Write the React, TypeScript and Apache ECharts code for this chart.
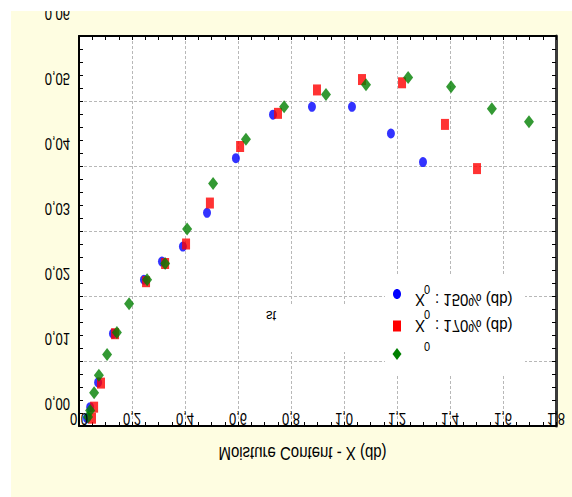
import React, { useEffect, useRef } from "react";
import * as echarts from "echarts";

// Tick values and labels
const xTickValues = [0, 0.2, 0.4, 0.6, 0.8, 1.0, 1.2, 1.4, 1.6, 1.8];
const xTickLabels = ["0,0", "0,2", "0,4", "0,6", "0,8", "1,0", "1,2", "1,4", "1,6", "1,8"];
const yTickValues = [0, 0.01, 0.02, 0.03, 0.04, 0.05, 0.06];
const yTickLabels = ["0,00", "0,01", "0,02", "0,03", "0,04", "0,05", "0,06"];

// Series: X0 = 150 % (db)
const x150 = [0.030, 0.042, 0.072, 0.128, 0.245, 0.313, 0.392, 0.483, 0.592, 0.732, 0.879, 1.030, 1.177, 1.298];
const y150 = [0.0012, 0.0029, 0.0067, 0.0142, 0.0225, 0.0253, 0.0276, 0.0328, 0.0412, 0.0479, 0.0491, 0.0491, 0.0450, 0.0406];

// Series: X0 = 170 % (db)
const x170 = [0.049, 0.057, 0.083, 0.136, 0.253, 0.325, 0.404, 0.494, 0.608, 0.751, 0.898, 1.068, 1.219, 1.381, 1.502];
const y170 = [0.0012, 0.0029, 0.0066, 0.0142, 0.0222, 0.0250, 0.0280, 0.0343, 0.0430, 0.0481, 0.0517, 0.0533, 0.0528, 0.0464, 0.0396];

// Series: third run (green diamonds)
const x190 = [0.034, 0.042, 0.057, 0.075, 0.106, 0.143, 0.189, 0.257, 0.325, 0.408, 0.506, 0.630, 0.774, 0.932, 1.083, 1.242, 1.404, 1.558, 1.698];
const y190 = [0.0014, 0.0024, 0.0051, 0.0078, 0.0110, 0.0144, 0.0188, 0.0225, 0.0250, 0.0303, 0.0373, 0.0441, 0.0491, 0.0510, 0.0525, 0.0536, 0.0522, 0.0488, 0.0468];

const legendLabels = [": 150% (db)", ": 170% (db)"];
const xAxisTitle = "Moisture Content - X (db)";

const FONT = "'Liberation Sans', Arial, sans-serif";

const zip = (xs: number[], ys: number[]) => xs.map((x, i) => [x, ys[i]]);

export default function App() {
  const ref = useRef<HTMLDivElement>(null);

  useEffect(() => {
    const chart = echarts.init(ref.current!, null, { renderer: "svg" });

    const tick = { show: true, inside: true, length: 4, lineStyle: { color: "#000", width: 1 } };
    const minorX = { show: true, splitNumber: 4, length: 4, lineStyle: { color: "#000", width: 1 } };
    const minorY = { show: true, splitNumber: 5, length: 4, lineStyle: { color: "#000", width: 1 } };
    const split = { show: true, lineStyle: { color: "#b8b8b8", width: 1, type: [3, 2] } };

    chart.setOption({
      animation: false,
      backgroundColor: "#FEFDE1",
      grid: { left: 79, top: 36, right: 16, bottom: 71, show: true, backgroundColor: "#ffffff", borderWidth: 0 },
      xAxis: [
        {
          type: "value", min: 0, max: 1.8, interval: 0.2, position: "bottom",
          axisLine: { show: true, onZero: false, lineStyle: { color: "#000", width: 2 } },
          axisTick: tick, minorTick: minorX, axisLabel: { show: false }, splitLine: split,
        },
        {
          type: "value", min: 0, max: 1.8, interval: 0.2, position: "top",
          axisLine: { show: true, onZero: false, lineStyle: { color: "#000", width: 2 } },
          axisTick: tick, minorTick: minorX, axisLabel: { show: false }, splitLine: { show: false },
        },
      ],
      yAxis: [
        {
          type: "value", min: 0, max: 0.06, interval: 0.01, position: "left",
          axisLine: { show: true, onZero: false, lineStyle: { color: "#000", width: 2 } },
          axisTick: tick, minorTick: minorY, axisLabel: { show: false }, splitLine: split,
        },
        {
          type: "value", min: 0, max: 0.06, interval: 0.01, position: "right",
          axisLine: { show: true, onZero: false, lineStyle: { color: "#3a3a3a", width: 3 } },
          axisTick: tick, minorTick: minorY, axisLabel: { show: false }, splitLine: { show: false },
        },
      ],
      series: [
        {
          type: "scatter", name: "150", xAxisIndex: 0, yAxisIndex: 0, data: zip(x150, y150),
          symbol: "circle", symbolSize: [8, 10], itemStyle: { color: "#0000ff" },
        },
        {
          type: "scatter", name: "170", xAxisIndex: 0, yAxisIndex: 0, data: zip(x170, y170),
          symbol: "rect", symbolSize: [8, 11], itemStyle: { color: "#ff0000" },
        },
        {
          type: "scatter", name: "190", xAxisIndex: 0, yAxisIndex: 0, data: zip(x190, y190),
          symbol: "diamond", symbolSize: [10, 13], itemStyle: { color: "#008000" },
        },
      ],
    });

    const toPx = (x: number, y: number) =>
      chart.convertToPixel({ xAxisIndex: 0, yAxisIndex: 0 }, [x, y]) as number[];

    const flipped = (text: string, x: number, y: number, size: number, align: string, sy = -1.25, z = 20) => ({
      type: "text",
      x,
      y,
      scaleY: sy,
      z,
      style: { text, fill: "#000", font: `${size}px ${FONT}`, align, verticalAlign: "middle" },
    });

    const g: any[] = [];

    // white boxes behind legend and small label
    g.push({ type: "rect", z: 10, shape: { x: 385, y: 275, width: 140, height: 100 }, style: { fill: "#fff" } });
    g.push({ type: "rect", z: 10, shape: { x: 246, y: 306, width: 132, height: 46 }, style: { fill: "#fff" } });

    // x tick labels
    xTickValues.forEach((v, i) => {
      const p = toPx(v, 0);
      g.push(flipped(xTickLabels[i], p[0], p[1] - 7, 13, "center", -1.3));
    });
    // y tick labels
    yTickValues.forEach((v, i) => {
      const p = toPx(0, v);
      g.push(flipped(yTickLabels[i], p[0] - 9, p[1] - 22, 13, "right", -1.3));
    });

    // axis title
    const mid = toPx(0.9, 0);
    g.push(flipped(xAxisTitle, mid[0] - 15, 453, 15, "center", -1.2));

    // legend markers
    g.push({ type: "ellipse", z: 20, shape: { cx: 397, cy: 294, rx: 4, ry: 5 }, style: { fill: "#0000ff" } });
    g.push({ type: "rect", z: 20, shape: { x: 393, y: 320.5, width: 8, height: 11 }, style: { fill: "#ff0000" } });
    g.push({
      type: "polygon", z: 20,
      shape: { points: [[397, 348], [401.5, 354], [397, 360], [392.5, 354]] },
      style: { fill: "#008000" },
    });

    // legend texts
    g.push(flipped("X", 420, 300, 15, "center", -1.15));
    g.push(flipped("0", 427, 289, 11, "center", -1.15));
    g.push(flipped(legendLabels[0], 435, 300, 15, "left", -1.15));
    g.push(flipped("X", 420, 326, 15, "center", -1.15));
    g.push(flipped("0", 427, 314, 11, "center", -1.15));
    g.push(flipped(legendLabels[1], 435, 326, 15, "left", -1.15));
    g.push(flipped("0", 427, 346, 11, "center", -1.15));

    // small label
    g.push(flipped("st", 271, 316, 13, "center", -1.15));

    // white page margins (top and left)
    g.push({ type: "rect", z: 100, shape: { x: 0, y: 0, width: 11, height: 497 }, style: { fill: "#fff" } });
    g.push({ type: "rect", z: 100, shape: { x: 0, y: 0, width: 572, height: 11 }, style: { fill: "#fff" } });

    chart.setOption({ graphic: g });

    return () => chart.dispose();
  }, []);

  return <div ref={ref} style={{ position: "absolute", left: 0, top: 0, width: 572, height: 497 }} />;
}
